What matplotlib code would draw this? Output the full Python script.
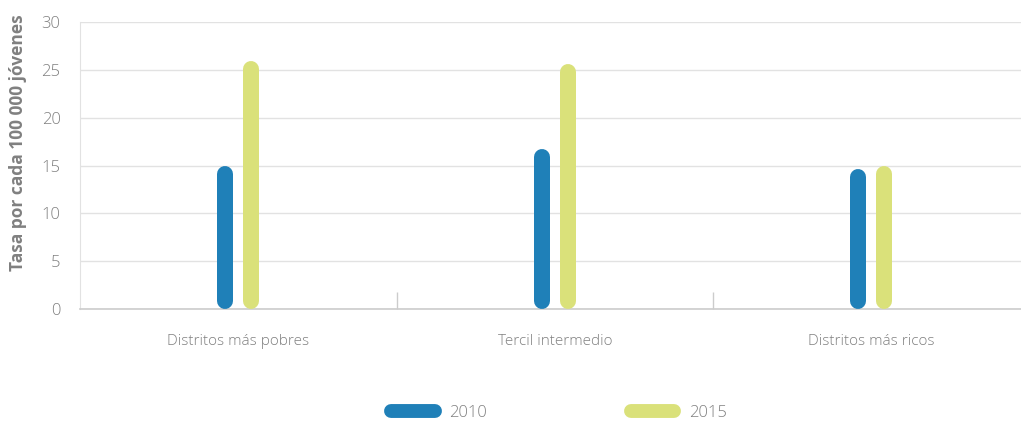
import matplotlib
matplotlib.use("Agg")
import matplotlib.pyplot as plt
from matplotlib.lines import Line2D
import numpy as np

categories = ["Distritos más pobres", "Tercil intermedio", "Distritos más ricos"]
series_names = ["2010", "2015"]
values_2010 = [15.0, 16.7, 14.6]
values_2015 = [25.9, 25.6, 15.0]
colors = ["#1f80b8", "#dae17a"]
yticks = [0, 5, 10, 15, 20, 25, 30]
ylabel = "Tasa por cada 100 000 jóvenes"

plt.rcParams['font.family'] = ['Open Sans', 'DejaVu Sans']

W, H, DPI = 1021, 425, 100
fig = plt.figure(figsize=(W / DPI, H / DPI), dpi=DPI)
ax_left, ax_right, ax_top, ax_bottom = 80, 1021, 22, 309
ax = fig.add_axes([ax_left / W, 1 - ax_bottom / H, (ax_right - ax_left) / W, (ax_bottom - ax_top) / H])

cat_px = 316.5
xmax = -0.5 + (ax_right - ax_left) / cat_px
ax.set_xlim(-0.5, xmax)
ax.set_ylim(0, 30)

bar_px = 16
lw_pt = bar_px * 72 / DPI
r_data = (bar_px / 2) / ((ax_bottom - ax_top) / 30)
offset = 13 / cat_px
x = np.arange(len(categories))
for i, (vals, col) in enumerate(zip([values_2010, values_2015], colors)):
    xs = x + (-offset if i == 0 else offset)
    for xi, v in zip(xs, vals):
        ax.plot([xi, xi], [r_data, v - r_data], color=col, lw=lw_pt,
                solid_capstyle='round', zorder=3)

ax.set_yticks(yticks)
ax.yaxis.grid(True, color="#e2e2e2", lw=1)
ax.set_axisbelow(True)
ax.tick_params(axis='y', length=0, pad=14, labelsize=12, labelcolor="#808080")
for lab in ax.get_yticklabels():
    lab.set_fontweight('light')

ax.set_xticks(x)
ax.set_xticklabels(categories, fontsize=11, color="#808080", fontweight='light')
ax.set_xticks(np.arange(0.5, xmax, 1.0), minor=True)
ax.tick_params(axis='x', which='major', length=0, pad=18)
ax.tick_params(axis='x', which='minor', direction='in', length=12, color="#cccccc", width=1)

for s in ['top', 'right']:
    ax.spines[s].set_visible(False)
ax.spines['left'].set_color("#e2e2e2")
ax.spines['bottom'].set_color("#cccccc")
ax.spines['bottom'].set_linewidth(1.2)

fig.text(18 / W, 1 - 143 / H, ylabel, rotation=90, ha='center', va='center',
         fontsize=12.5, fontweight='bold', color="#808080")

handles = [Line2D([0], [0], color=c, lw=10, solid_capstyle='round') for c in colors]
leg = fig.legend(handles, series_names, loc='center', bbox_to_anchor=(559 / W, 1 - 413 / H),
                 ncol=2, frameon=False, handlelength=2.6, handletextpad=0.9,
                 columnspacing=8.6, prop={'size': 12, 'weight': 'light'}, labelcolor="#808080")

fig.savefig("out.png", dpi=DPI)
